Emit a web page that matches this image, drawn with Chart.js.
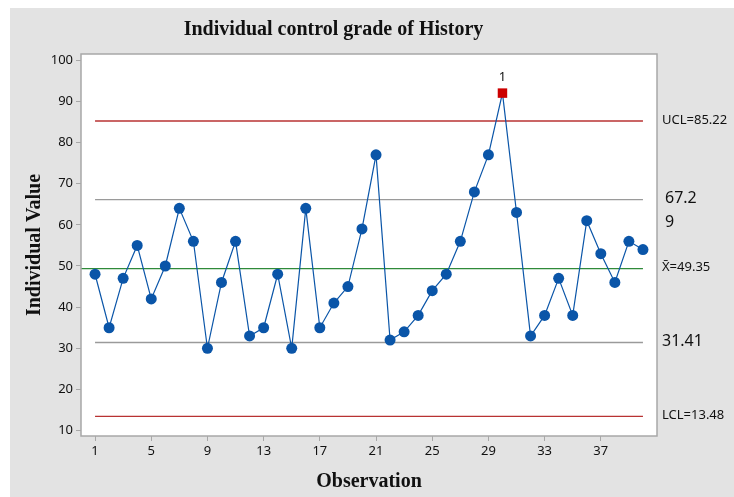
<!DOCTYPE html>
<html>
<head>
<meta charset="utf-8">
<script src="https://cdn.jsdelivr.net/npm/chart.js@4.4.1/dist/chart.umd.min.js"></script>
<style>
  html, body { margin: 0; padding: 0; background: #ffffff; }
  #wrap { width: 734px; height: 497px; }
</style>
</head>
<body>
<div id="wrap"><canvas id="ctrlChart"></canvas></div>
<script>
// individual grades, observations 1..40
const observations = [1,2,3,4,5,6,7,8,9,10,11,12,13,14,15,16,17,18,19,20,21,22,23,24,25,26,27,28,29,30,31,32,33,34,35,36,37,38,39,40];
const grades = [48,35,47,55,42,50,64,56,30,46,56,33,35,48,30,64,35,41,45,59,77,32,34,38,44,48,56,68,77,92,63,33,38,47,38,61,53,46,56,54];
const outOfControl = [30];

// control limits
const limitNames = ["UCL", "upper", "mean", "lower", "LCL"];
const limitValues = [85.22, 66.1, 49.35, 31.41, 13.48];
const limitLabels = [["UCL=85.22"], ["67.2", "9"], ["X\u0304=49.35"], ["31.41"], ["LCL=13.48"]];

const xTicks = [1,5,9,13,17,21,25,29,33,37];
const yTicks = [10,20,30,40,50,60,70,80,90,100];

const BLUE = "#0a55a8";
const RED = "#cc0000";
const limitColors = ["#b83232", "#9a9a9a", "#2f8a3a", "#9a9a9a", "#b83232"];
const limitFonts = ["13px 'Noto Sans'", "16px 'Noto Sans'", "13px 'Noto Sans'", "16px 'Noto Sans'", "13px 'Noto Sans'"];

const points = observations.map((o, i) => ({ x: o, y: grades[i] }));
const isOut = observations.map(o => outOfControl.includes(o));

const limitSets = limitValues.map((v, i) => ({
  label: limitNames[i],
  data: [{ x: i == 2 ? 0 : 1, y: v }, { x: observations[observations.length - 1], y: v }],
  borderColor: limitColors[i],
  borderWidth: 1.3,
  pointRadius: 0,
  fill: false,
  order: 2,
}));

const bgPlugin = {
  id: "bg",
  beforeDraw(chart) {
    const c = chart.ctx, a = chart.chartArea;
    c.save();
    c.fillStyle = "#ffffff";
    c.fillRect(0, 0, chart.width, chart.height);
    c.fillStyle = "#e3e3e3";
    c.fillRect(10, 8, chart.width - 10, chart.height - 8);
    c.fillStyle = "#ffffff";
    c.fillRect(a.left, a.top, a.right - a.left, a.bottom - a.top);
    c.restore();
  },
  afterDraw(chart) {
    const c = chart.ctx, a = chart.chartArea;
    const ys = chart.scales.y, xs = chart.scales.x;
    c.save();
    c.strokeStyle = "#a8a8a8";
    c.lineWidth = 1.5;
    c.strokeRect(a.left, a.top, a.right - a.left, a.bottom - a.top);
    // limit labels at the right
    c.fillStyle = "#111111";
    c.textBaseline = "middle";
    c.textAlign = "left";
    limitValues.forEach((v, i) => {
      c.font = limitFonts[i];
      const py = ys.getPixelForValue(v) - 1;
      limitLabels[i].forEach((t, j) => {
        c.fillText(t, a.right + (i == 1 ? 8 : 5), py + j * 24);
      });
    });
    // test number above out-of-control point
    c.font = "13px 'Noto Sans'";
    c.textAlign = "center";
    outOfControl.forEach(o => {
      const px = xs.getPixelForValue(o);
      const py = ys.getPixelForValue(grades[o - 1]);
      c.fillText("1", px, py - 16);
    });
    c.restore();
  }
};

new Chart(document.getElementById("ctrlChart"), {
  type: "line",
  data: {
    datasets: [
      {
        label: "Grade",
        data: points,
        borderColor: BLUE,
        borderWidth: 1.2,
        pointStyle: isOut.map(f => f ? "rect" : "circle"),
        pointRadius: isOut.map(f => f ? 6.7 : 5.5),
        pointBackgroundColor: isOut.map(f => f ? RED : BLUE),
        pointBorderWidth: 0,
        pointBorderColor: isOut.map(f => f ? RED : BLUE),
        fill: false,
        order: 1,
      },
      ...limitSets,
    ],
  },
  options: {
    responsive: true,
    maintainAspectRatio: false,
    animation: false,
    layout: { padding: { left: 10, right: 77, top: 8, bottom: 0 } },
    plugins: {
      legend: { display: false },
      tooltip: { enabled: false },
      title: {
        display: true,
        text: "Individual control grade of History",
        color: "#111111",
        font: { family: "'Liberation Serif'", size: 20, weight: "bold" },
        padding: { top: 10, bottom: 12 },
      },
    },
    scales: {
      x: {
        type: "linear",
        min: 0,
        max: 41,
        afterBuildTicks: s => { s.ticks = xTicks.map(v => ({ value: v })); },
        afterFit: s => { s.height = 61; },
        grid: { drawOnChartArea: false, drawTicks: true, tickLength: 5, color: "#a8a8a8" },
        border: { display: false },
        ticks: { color: "#111111", padding: 2, maxRotation: 0, font: { family: "'Noto Sans'", size: 13 } },
        title: {
          display: true,
          text: "Observation",
          color: "#111111",
          font: { family: "'Liberation Serif'", size: 20, weight: "bold" },
          padding: { top: 4, bottom: 3 },
        },
      },
      y: {
        min: 8.7,
        max: 101.5,
        afterBuildTicks: s => { s.ticks = yTicks.map(v => ({ value: v })); },
        afterFit: s => { s.width = 71; },
        grid: { drawOnChartArea: false, drawTicks: true, tickLength: 5, color: "#a8a8a8" },
        border: { display: false },
        ticks: { color: "#111111", padding: 3, font: { family: "'Noto Sans'", size: 13 } },
        title: {
          display: true,
          text: "Individual Value",
          color: "#111111",
          font: { family: "'Liberation Serif'", size: 20, weight: "bold" },
          padding: { top: 13, bottom: 6 },
        },
      },
    },
  },
  plugins: [bgPlugin],
});
</script>
</body>
</html>
